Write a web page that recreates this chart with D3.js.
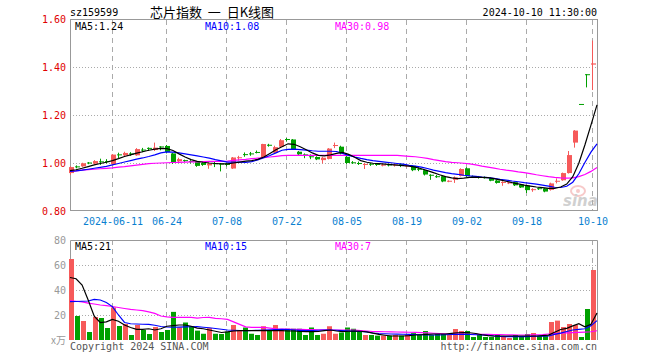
<!DOCTYPE html>
<html>
<head>
<meta charset="utf-8">
<script src="https://cdn.jsdelivr.net/npm/d3@7"></script>
<style>
  body { margin: 0; background: #fff; }
  text { font-family: "DejaVu Sans Mono", monospace; font-size: 10px; }
</style>
</head>
<body>
<div id="chart"></div>
<script>
var dates = ["2024-05-30","2024-05-31","2024-06-03","2024-06-04","2024-06-05","2024-06-06","2024-06-07","2024-06-11","2024-06-12","2024-06-13",
  "2024-06-14","2024-06-17","2024-06-18","2024-06-19","2024-06-20","2024-06-21","2024-06-24","2024-06-25","2024-06-26","2024-06-27",
  "2024-06-28","2024-07-01","2024-07-02","2024-07-03","2024-07-04","2024-07-05","2024-07-08","2024-07-09","2024-07-10","2024-07-11",
  "2024-07-12","2024-07-15","2024-07-16","2024-07-17","2024-07-18","2024-07-19","2024-07-22","2024-07-23","2024-07-24","2024-07-25",
  "2024-07-26","2024-07-29","2024-07-30","2024-07-31","2024-08-01","2024-08-02","2024-08-05","2024-08-06","2024-08-07","2024-08-08",
  "2024-08-09","2024-08-12","2024-08-13","2024-08-14","2024-08-15","2024-08-16","2024-08-19","2024-08-20","2024-08-21","2024-08-22",
  "2024-08-23","2024-08-26","2024-08-27","2024-08-28","2024-08-29","2024-08-30","2024-09-02","2024-09-03","2024-09-04","2024-09-05",
  "2024-09-06","2024-09-09","2024-09-10","2024-09-11","2024-09-12","2024-09-13","2024-09-18","2024-09-19","2024-09-20","2024-09-23",
  "2024-09-24","2024-09-25","2024-09-26","2024-09-27","2024-09-30","2024-10-08","2024-10-09","2024-10-10"];

var open = [.958,.986,.986,1.002,.997,1.007,1.008,.995,1.036,1.032,
  1.040,1.032,1.056,1.063,1.054,1.069,1.071,1.040,1.007,1.012,
  1.008,1.006,1.000,.990,.999,.998,.998,.977,1.022,1.037,
  1.040,1.046,1.024,1.076,1.043,1.068,1.100,1.098,1.047,1.036,
  1.028,1.025,1.012,1.017,1.072,1.068,1.026,1.003,1.000,.993,
  .997,.996,.991,.994,.990,.995,.986,.988,.976,.970,
  .951,.945,.945,.924,.930,.946,.978,.944,.942,.941,
  .937,.927,.918,.917,.920,.910,.906,.888,.895,.894,
  .888,.924,.928,.958,1.085,1.246,1.370,1.410];
var high = [.986,.990,1.001,1.004,1.012,1.018,1.016,1.037,1.043,1.047,
  1.045,1.062,1.063,1.065,1.085,1.070,1.075,1.043,1.022,1.014,
  1.012,1.008,1.003,1.002,1.004,1.000,1.002,1.025,1.030,1.044,
  1.046,1.052,1.080,1.080,1.072,1.100,1.104,1.100,1.050,1.040,
  1.036,1.028,1.026,1.062,1.085,1.072,1.030,1.008,1.006,1.000,
  1.000,.999,.998,.997,.998,.998,.993,.990,.982,.972,
  .953,.950,.947,.928,.944,.978,.982,.948,.946,.944,
  .940,.930,.924,.922,.922,.912,.908,.895,.898,.896,
  .918,.936,.960,1.050,1.137,1.246,1.370,1.510];
var low = [.951,.978,.984,.995,.993,.992,.998,.993,1.021,1.028,
  1.030,1.030,1.045,1.050,1.050,1.053,1.040,.996,1.000,1.004,
  .998,.984,.988,.976,.983,.965,.986,.975,1.010,1.026,
  1.030,1.040,1.022,1.068,1.040,1.066,1.090,1.055,1.030,1.020,
  1.016,1.012,.998,1.015,1.062,1.036,.996,.996,.992,.975,
  .988,.988,.986,.986,.985,.983,.982,.966,.966,.948,
  .930,.938,.920,.920,.917,.944,.942,.938,.935,.935,
  .924,.914,.905,.912,.904,.896,.875,.880,.888,.878,
  .885,.915,.926,.956,1.064,1.246,1.315,1.304];
var close = [.983,.984,.999,1.000,1.008,1.005,1.006,1.035,1.034,1.042,
  1.038,1.058,1.054,1.062,1.064,1.068,1.046,1.002,1.016,1.010,
  1.006,.988,.992,.998,.997,.994,.992,1.023,1.024,1.035,
  1.038,1.045,1.079,1.074,1.066,1.095,1.098,1.058,1.036,1.034,
  1.026,1.015,1.022,1.060,1.075,1.040,1.000,1.001,.998,.996,
  .995,.993,.993,.992,.994,.988,.990,.970,.974,.952,
  .950,.943,.923,.926,.940,.975,.945,.943,.940,.939,
  .926,.917,.921,.919,.907,.898,.887,.891,.894,.881,
  .915,.926,.958,1.033,1.135,1.246,1.370,1.415];

var ma5 = [.968,.972,.978,.985,.992,.998,1.003,1.010,1.018,1.027,
  1.034,1.041,1.047,1.053,1.058,1.061,1.060,1.052,1.038,1.025,
  1.014,1.007,1.003,1.000,.998,.996,.996,1.000,1.004,1.008,
  1.010,1.015,1.025,1.040,1.055,1.068,1.080,1.078,1.068,1.055,
  1.042,1.032,1.030,1.034,1.040,1.044,1.036,1.024,1.010,1.003,
  .999,.997,.995,.993,.991,.989,.987,.983,.976,.968,
  .960,.951,.943,.938,.935,.937,.940,.941,.940,.939,
  .935,.930,.924,.918,.913,.908,.904,.900,.897,.894,
  .894,.900,.912,.943,.999,1.075,1.158,1.242];
var ma10 = [.965,.967,.970,.974,.978,.982,.986,.992,.998,1.004,
  1.010,1.016,1.021,1.027,1.034,1.042,1.046,1.045,1.042,1.038,
  1.034,1.030,1.025,1.020,1.014,1.009,1.004,1.004,1.004,1.003,
  1.006,1.013,1.022,1.031,1.042,1.053,1.057,1.058,1.056,1.054,
  1.051,1.049,1.049,1.049,1.048,1.040,1.032,1.025,1.019,1.014,
  1.010,1.007,1.004,1.001,.998,.995,.990,.987,.983,.977,
  .970,.965,.960,.956,.953,.949,.946,.944,.941,.939,
  .936,.932,.929,.925,.922,.918,.915,.912,.908,.904,
  .899,.898,.903,.920,.955,1.002,1.045,1.080];
var ma30 = [.965,.967,.970,.972,.974,.976,.978,.980,.983,.985,
  .988,.991,.994,.997,.999,1.000,1.001,1.002,1.003,1.004,
  1.005,1.005,1.006,1.007,1.007,1.007,1.008,1.011,1.013,1.015,
  1.018,1.020,1.022,1.025,1.028,1.031,1.032,1.032,1.032,1.032,
  1.032,1.032,1.032,1.032,1.032,1.032,1.032,1.032,1.032,1.032,
  1.032,1.032,1.032,1.032,1.032,1.030,1.028,1.026,1.023,1.019,
  1.014,1.010,1.006,1.003,1.001,.999,.996,.992,.987,.983,
  .979,.974,.970,.967,.963,.960,.956,.951,.947,.943,
  .940,.938,.937,.938,.943,.952,.965,.981];

var volume = [64.8,19.2,15.2,6.4,18.4,17.6,9.6,26.1,11.2,12.8,
  4,12,8,4.8,10.4,6.4,8,22.5,10,14,
  11,7.5,5,9.5,5,4.8,6.7,12,7.2,10,
  5,4,11,8,12,8,9,9,9,4,
  10,4,5,11,5,6,10,9,7,4,
  4,3.5,3.5,3.5,4,3.5,4,5.5,4,7.2,
  4,4.8,4.8,4,8.8,7.2,7.2,2.4,4.8,2.4,
  2.4,4,2.4,1.6,4,3.2,4.8,5.6,3.2,3.2,
  14.4,15.5,10.4,12.8,12,2.4,24.8,56];
var volMa5 = [50,49,44,32,19,14,14.5,16.5,15,12,
  10,8.5,8.5,9,8,9,11,11.5,12,12,
  11,9.5,9,8,7,6,6.5,7.2,7.5,7.5,
  7.5,7.5,7.5,7.5,7.5,7.5,7.2,7.2,6.8,6.7,
  6.7,6.8,7.5,8,7.2,6.7,7,7.2,7,6.5,
  5.5,4.5,3.8,3.2,3.2,3.2,3.5,4,4.2,4.5,
  4.8,4.8,4.8,5.3,5.8,6,5.8,5.2,4.2,3.5,
  3.2,3.2,3.2,3.2,3.2,3.2,3.2,3.2,3.5,3.9,
  6.2,8.4,9.3,11.3,13,10.6,12.5,21.6];
var volMa10 = [30.7,30.8,31,31.2,32.5,32,30,26.7,20,14,
  13,12.8,12.6,12.5,11.8,10.8,10.4,10.2,10.3,10.5,
  10.6,10.7,10.2,9.8,9.2,8.6,8,7.8,7.6,7.5,
  7.6,7.8,8,8.2,8.4,8.5,8.3,8,7.7,7.5,
  7.6,7.8,8,8,7.8,7.5,7.2,7,6.8,6.4,
  5.6,5.2,5,4.8,4.7,4.6,4.5,4.4,4.2,4,
  4,4,4.2,4.4,4.5,4.5,4.4,4.2,4,3.8,
  3.2,2.8,2.7,2.7,2.7,2.7,2.8,3,3.1,3.2,
  4.5,5.5,6.8,8,8.5,9,11.5,15.5];
var volMa30 = [31.5,31,30.5,29.5,28.8,28,27.5,26.8,26,25.2,
  24.5,24,23.5,22.5,21.3,19.2,18.5,18.1,18.1,18.1,
  18.1,17.5,18,18.1,17.3,17,16.5,14.5,12.5,10.5,
  10.1,10.1,10.1,9.5,9,8.8,8.7,8.6,8.5,8.4,
  8.3,8.2,8.1,8,8,8,8,8,7.5,7.1,
  6.8,6.7,6.6,6.5,6.4,6.3,6.2,6.1,5.9,5.7,
  5.4,5.2,5,4.8,4.8,4.7,4.6,4.6,4.5,4.5,
  4.4,4.3,4.2,4.1,4,4,4.1,4.2,4.3,4.8,
  5.1,5.4,5.7,5.9,6.1,6.3,6.6,7.4];

var tickDates = ["2024-06-11","2024-06-24","2024-07-08","2024-07-22","2024-08-05","2024-08-19","2024-09-02","2024-09-18","2024-10-10"];
var tickLabels = ["2024-06-11","06-24","07-08","07-22","08-05","08-19","09-02","09-18","10-10"];
var priceTicks = [0.8, 1.0, 1.2, 1.4, 1.6];
var volTicks = [20, 40, 60, 80];

var W = 660, H = 360;
var left = 70, right = 597;
var red = "#f65a5a", green = "#00a000";

var svg = d3.select("#chart").append("svg")
  .attr("width", W)
  .attr("height", H);

var x = d3.scaleBand().domain(dates).range([68, 596]);
var xLine = d3.scalePoint().domain(dates).range([left, right]);
var y = d3.scaleLinear().domain([0.8, 1.6]).range([211, 19]);
var yv = d3.scaleLinear().domain([0, 80]).range([340, 240]);

function cx(d) { return Math.round(x(d) + 2) + 0.5; }
function up(i) { return close[i] > open[i]; }

// header
svg.append("text").attr("x", left).attr("y", 16).text("sz159599");
svg.append("text").attr("x", 150).attr("y", 17)
  .style("font-family", "'Noto Sans CJK SC'").style("font-size", "13px")
  .attr("xml:space", "preserve")
  .text("芯片指数  一  日K线图");
svg.append("text").attr("x", right).attr("y", 16).attr("text-anchor", "end")
  .text("2024-10-10 11:30:00");

// sina watermark
var wm = svg.append("g").attr("opacity", 0.45);
wm.append("ellipse").attr("cx", 578).attr("cy", 191).attr("rx", 7).attr("ry", 5)
  .attr("fill", "none").attr("stroke", "#e88").attr("stroke-width", 2);
wm.append("circle").attr("cx", 578).attr("cy", 191).attr("r", 2).attr("fill", "#e88");
wm.append("text").attr("x", 563).attr("y", 206)
  .style("font-family", "'DejaVu Sans'").style("font-size", "15px")
  .style("font-weight", "bold").style("font-style", "italic")
  .attr("fill", "#999").text("sina");

// grids
function panel(y0, y1) {
  svg.append("g").selectAll("line").data(tickDates).enter().append("line")
    .attr("x1", cx).attr("x2", cx)
    .attr("y1", y0).attr("y2", y1)
    .attr("stroke", "#aaa").attr("stroke-dasharray", "5,4");
}
panel(20, 211);
panel(240, 340);

svg.append("g").selectAll("line").data([1.0, 1.2, 1.4]).enter().append("line")
  .attr("x1", left).attr("x2", right)
  .attr("y1", function(d) { return Math.round(y(d)) + 0.5; })
  .attr("y2", function(d) { return Math.round(y(d)) + 0.5; })
  .attr("stroke", "#aaa").attr("stroke-dasharray", "1,2");
svg.append("g").selectAll("line").data([20, 40, 60]).enter().append("line")
  .attr("x1", left).attr("x2", right)
  .attr("y1", function(d) { return Math.round(yv(d)) + 0.5; })
  .attr("y2", function(d) { return Math.round(yv(d)) + 0.5; })
  .attr("stroke", "#aaa").attr("stroke-dasharray", "1,2");

// frames
svg.append("rect").attr("x", left + 0.5).attr("y", 19.5)
  .attr("width", right - left).attr("height", 191)
  .attr("fill", "none").attr("stroke", "#999");
svg.append("path")
  .attr("d", "M" + (left + 0.5) + ",340V240.5H" + (right + 0.5) + "V340")
  .attr("fill", "none").attr("stroke", "#999");

// axes
var yAxis = svg.append("g").attr("transform", "translate(66,0)")
  .call(d3.axisLeft(y).tickValues(priceTicks).tickFormat(d3.format(".2f")).tickSize(0).tickPadding(0));
yAxis.select(".domain").remove();
yAxis.selectAll("text").attr("fill", "#e00000").style("font-size", "10px");

var vAxis = svg.append("g").attr("transform", "translate(66,0)")
  .call(d3.axisLeft(yv).tickValues(volTicks).tickSize(0).tickPadding(0));
vAxis.select(".domain").remove();
vAxis.selectAll("text").attr("fill", "#999").style("font-size", "10px");
svg.append("text").attr("x", 66).attr("y", 344).attr("text-anchor", "end")
  .attr("fill", "#999").style("font-family", "'Noto Sans CJK SC'").style("font-size", "10px")
  .text("x万");

var xAxis = svg.append("g").attr("transform", "translate(0,211)")
  .call(d3.axisBottom(x).tickValues(tickDates).tickSize(0).tickPadding(7)
    .tickFormat(function(d) { return tickLabels[tickDates.indexOf(d)]; }));
xAxis.select(".domain").remove();
xAxis.selectAll("text").attr("fill", "#0a7fd0").style("font-size", "10px");

// candles
var idx = d3.range(dates.length);
var candles = svg.append("g").selectAll("g").data(idx).enter().append("g");
candles.append("line")
  .attr("x1", function(i) { return cx(dates[i]); })
  .attr("x2", function(i) { return cx(dates[i]); })
  .attr("y1", function(i) { return y(high[i]); })
  .attr("y2", function(i) { return y(low[i]); })
  .attr("stroke", function(i) { return up(i) ? red : green; });
candles.append("rect")
  .attr("x", function(i) { return x(dates[i]) + 1; })
  .attr("width", 5)
  .attr("y", function(i) { return y(Math.max(open[i], close[i])); })
  .attr("height", function(i) { return Math.max(1, Math.abs(y(open[i]) - y(close[i]))); })
  .attr("fill", function(i) { return up(i) ? red : green; });

// volume bars
svg.append("g").selectAll("rect").data(idx).enter().append("rect")
  .attr("x", function(i) { return x(dates[i]) + 1; })
  .attr("width", 5)
  .attr("y", function(i) { return yv(volume[i]); })
  .attr("height", function(i) { return 340 - yv(volume[i]); })
  .attr("fill", function(i) { return up(i) ? red : green; });

// moving averages
function maLine(values, scale, color) {
  var line = d3.line()
    .x(function(d, i) { return xLine(dates[i]); })
    .y(function(d) { return scale(d); });
  svg.append("path").datum(values)
    .attr("d", line)
    .attr("fill", "none")
    .attr("stroke", color)
    .attr("stroke-width", 1.2);
}
maLine(ma30, y, "#ff00ff");
maLine(ma10, y, "#0000ff");
maLine(ma5, y, "#000");
maLine(volMa30, yv, "#ff00ff");
maLine(volMa10, yv, "#0000ff");
maLine(volMa5, yv, "#000");

// legends
var fmt = d3.format(".2f");
var last = dates.length - 1;
var legends = [
  { x: 75, y: 30, c: "#000", t: "MA5:" + fmt(ma5[last]) },
  { x: 205, y: 30, c: "#0000ff", t: "MA10:" + fmt(ma10[last]) },
  { x: 335, y: 30, c: "#ff00ff", t: "MA30:" + fmt(ma30[last]) },
  { x: 75, y: 250, c: "#000", t: "MA5:" + Math.floor(volMa5[last]) },
  { x: 205, y: 250, c: "#0000ff", t: "MA10:" + Math.floor(volMa10[last]) },
  { x: 335, y: 250, c: "#ff00ff", t: "MA30:" + Math.floor(volMa30[last]) }
];
svg.append("g").selectAll("text").data(legends).enter().append("text")
  .attr("x", function(d) { return d.x; })
  .attr("y", function(d) { return d.y; })
  .attr("fill", function(d) { return d.c; })
  .text(function(d) { return d.t; });

// footer
svg.append("text").attr("x", left).attr("y", 350).attr("fill", "#555")
  .text("Copyright 2024 SINA.COM");
svg.append("text").attr("x", right).attr("y", 350).attr("text-anchor", "end").attr("fill", "#555")
  .text("http://finance.sina.com.cn");
</script>
</body>
</html>
